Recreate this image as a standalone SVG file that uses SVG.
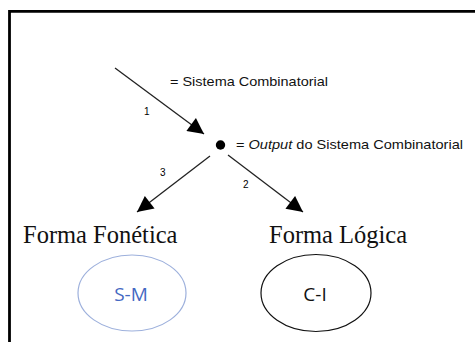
<svg xmlns="http://www.w3.org/2000/svg" width="475" height="342" viewBox="0 0 475 342">
<style>
.conn{stroke:#222;stroke-width:1.3;fill:none}
.lbl{font-family:"Liberation Sans",Arial,sans-serif;fill:#111}
.serif{font-family:"Liberation Serif","Times New Roman",serif;font-size:24.5px;fill:#111}
.small{font-family:"Liberation Sans",Arial,sans-serif;font-size:10px;fill:#000}
</style>
<defs>
<marker id="ah" viewBox="0 0 10 10" refX="10" refY="5" markerWidth="18" markerHeight="16" markerUnits="userSpaceOnUse" orient="auto">
<path d="M0,0 L10,5 L0,10 z" fill="#000"/>
</marker>
</defs>
<rect width="475" height="342" fill="#fff"/>
<path d="M9.5,342 V11.3 H475" fill="none" stroke="#000" stroke-width="2.8"/>
<g id="connectors">
<line class="conn" x1="115" y1="68" x2="204" y2="134" marker-end="url(#ah)"/>
<line class="conn" x1="210" y1="156" x2="137" y2="212" marker-end="url(#ah)"/>
<line class="conn" x1="228" y1="155" x2="303" y2="212" marker-end="url(#ah)"/>
<text class="small" x="144" y="115">1</text>
<text class="small" x="160" y="176">3</text>
<text class="small" x="243" y="188">2</text>
</g>
<g id="legend-system">
<text class="lbl" x="170" y="86" font-size="13.5" textLength="158" lengthAdjust="spacingAndGlyphs">= Sistema Combinatorial</text>
</g>
<g id="output-node">
<circle cx="220.5" cy="145" r="4.7" fill="#000"/>
<text class="lbl" x="236" y="149" font-size="13.5" textLength="227" lengthAdjust="spacingAndGlyphs">= <tspan font-style="italic">Output</tspan> do Sistema Combinatorial</text>
</g>
<g id="forma-fonetica">
<text class="serif" x="23" y="243">Forma Fonética</text>
</g>
<g id="forma-logica">
<text class="serif" x="269" y="243">Forma Lógica</text>
</g>
<g id="sm">
<ellipse cx="132" cy="293" rx="54" ry="38" fill="none" stroke="#9DB0DC" stroke-width="1.2"/>
<text x="131" y="301" text-anchor="middle" font-family="'Open Sans','Liberation Sans',sans-serif" font-size="19" fill="#4468C2">S-M</text>
</g>
<g id="ci">
<ellipse cx="316" cy="293" rx="55" ry="38.5" fill="none" stroke="#111" stroke-width="1.2"/>
<text x="315" y="301" text-anchor="middle" font-family="'Open Sans','Liberation Sans',sans-serif" font-size="19" fill="#111">C-I</text>
</g>
</svg>
